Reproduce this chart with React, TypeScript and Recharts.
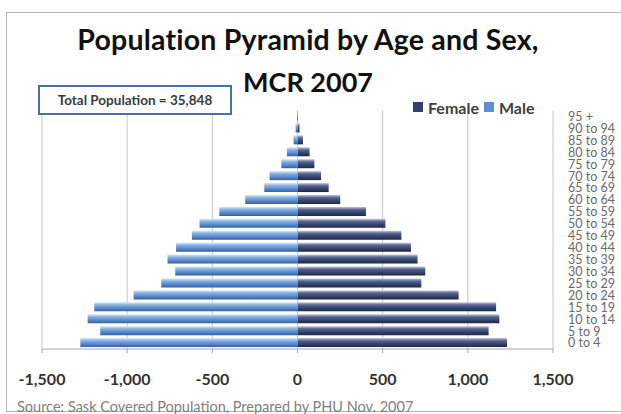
import { BarChart, Bar, XAxis, YAxis, CartesianGrid, Legend } from 'recharts';

// Age groups, youngest first (drawn bottom-up via reversed axis)
const ageGroups = [
  '0 to 4', '5 to 9', '10 to 14', '15 to 19', '20 to 24', '25 to 29', '30 to 34',
  '35 to 39', '40 to 44', '45 to 49', '50 to 54', '55 to 59', '60 to 64', '65 to 69',
  '70 to 74', '75 to 79', '80 to 84', '85 to 89', '90 to 94', '95 +',
];

// Males plotted as negatives so they extend to the left
const maleCounts = [
  -1275, -1158, -1232, -1193, -962, -800, -718, -763, -713, -620,
  -575, -459, -307, -195, -164, -95, -62, -23, -11, -3,
];

const femaleCounts = [
  1230, 1122, 1185, 1166, 946, 727, 750, 705, 666, 610,
  516, 402, 251, 183, 138, 99, 71, 32, 12, 2,
];

const xTicks = [-1500, -1000, -500, 0, 500, 1000, 1500];

const chartData = ageGroups.map((age, i) => ({
  age,
  Male: maleCounts[i],
  Female: femaleCounts[i],
}));

const FONT = 'Lato, "Open Sans", sans-serif';

function PyramidLegend() {
  const item = (label: string, color: string) => (
    <span style={{ display: 'inline-flex', alignItems: 'center', marginRight: 5 }}>
      <span style={{ width: 10, height: 10, background: color, marginRight: 5, display: 'inline-block' }} />
      {label}
    </span>
  );
  return (
    <div style={{ fontFamily: FONT, fontWeight: 700, fontSize: 16, color: '#404040', whiteSpace: 'nowrap' }}>
      {item('Female', '#33416c')}
      {item('Male', '#5b8fd3')}
    </div>
  );
}

export default function App() {
  return (
    <div style={{ position: 'absolute', left: 0, top: 0, width: 621, height: 414, background: '#fff', overflow: 'hidden' }}>
      {/* chart frame */}
      <div style={{ position: 'absolute', left: 6, top: 12, width: 640, height: 398, border: '1px solid #b5b5b5' }} />

      <BarChart
        width={621}
        height={414}
        data={chartData}
        layout="vertical"
        stackOffset="sign"
        margin={{ top: 90, right: 8, bottom: 35, left: 42 }}
        style={{ position: 'absolute', left: 0, top: 0 }}
      >
        <defs>
          <linearGradient id="maleGrad" x1="0" y1="0" x2="0" y2="1">
            <stop offset="0" stopColor="#d9e6f6" />
            <stop offset="0.3" stopColor="#86afe2" />
            <stop offset="0.7" stopColor="#4f84cb" />
            <stop offset="1" stopColor="#3b5f94" />
          </linearGradient>
          <linearGradient id="femaleGrad" x1="0" y1="0" x2="0" y2="1">
            <stop offset="0" stopColor="#c3c9d6" />
            <stop offset="0.3" stopColor="#56638f" />
            <stop offset="0.7" stopColor="#313e68" />
            <stop offset="1" stopColor="#1f2844" />
          </linearGradient>
        </defs>
        <CartesianGrid horizontal={false} stroke="#c4c4c4" />
        <XAxis
          type="number"
          domain={[-1500, 1500]}
          ticks={xTicks}
          tickFormatter={(v: number) => v.toLocaleString('en-US')}
          axisLine={{ stroke: '#a6a6a6' }}
          tickLine={{ stroke: '#a6a6a6' }}
          tickSize={4}
          tickMargin={21}
          tick={{ fontFamily: FONT, fontWeight: 700, fontSize: 16, fill: '#333' }}
        />
        <YAxis
          type="category"
          dataKey="age"
          orientation="right"
          reversed
          width={60}
          axisLine={false}
          tickLine={false}
          tickSize={6}
          tickMargin={9}
          interval={0}
          tick={{ fontFamily: FONT, fontSize: 12.5, fill: '#6a6a6a', textAnchor: 'start' }}
        />
        <Legend
          verticalAlign="top"
          content={() => <PyramidLegend />}
          wrapperStyle={{ position: 'absolute', left: 413, top: 96, width: 150 }}
        />
        <Bar dataKey="Female" stackId="pop" fill="url(#femaleGrad)" barSize={9} isAnimationActive={false} />
        <Bar dataKey="Male" stackId="pop" fill="url(#maleGrad)" barSize={9} isAnimationActive={false} />
      </BarChart>

      <div style={{ position: 'absolute', left: 0, width: 616, top: 21, textAlign: 'center', fontFamily: FONT, fontWeight: 700, fontSize: 28.5, color: '#111', lineHeight: '36px', letterSpacing: 0.2 }}>
        Population Pyramid by Age and Sex,
      </div>
      <div style={{ position: 'absolute', left: 0, width: 616, top: 64, textAlign: 'center', fontFamily: FONT, fontWeight: 700, fontSize: 27, color: '#111', lineHeight: '36px' }}>
        MCR 2007
      </div>

      <div style={{
        position: 'absolute', left: 38, top: 85, width: 190, height: 26, border: '2px solid #4a6fa8',
        background: '#fff', fontFamily: FONT, fontWeight: 700, fontSize: 13.5, color: '#3a3a3a',
        display: 'flex', alignItems: 'center', justifyContent: 'center',
      }}>
        Total Population = 35,848
      </div>

      <div style={{ position: 'absolute', left: 17, top: 398, fontFamily: FONT, fontSize: 14.5, color: '#808080', whiteSpace: 'nowrap' }}>
        Source: Sask Covered Population, Prepared by PHU Nov. 2007
      </div>
    </div>
  );
}
